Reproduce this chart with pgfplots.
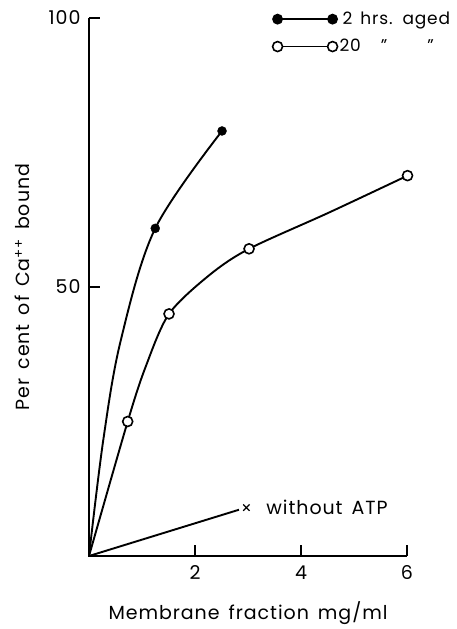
\documentclass[border=0pt]{standalone}
\usepackage{pgfplots}
\pgfplotsset{compat=1.18}
\usepackage{fontspec}
\setmainfont{Poppins}[LetterSpace=5, WordSpace=1.5]
\begin{document}
\fontsize{19pt}{22pt}\selectfont
\begin{tikzpicture}
\begin{axis}[
  at={(0,0)}, anchor=south west,
  scale only axis, width=318pt, height=538pt,
  xmin=0, xmax=6, ymin=0, ymax=100,
  clip=false,
  axis line style={draw=none},
  xtick pos=left, ytick pos=left,
  xtick={2,4,6}, ytick={50,100},
  tick align=inside, major tick length=11pt,
  tick style={line width=1.2pt, black},
  /pgf/number format/assume math mode=true,
  xticklabel style={yshift=-3pt},
  yticklabel style={xshift=-2pt},
  xlabel={Membrane fraction mg/ml},
  ylabel={Per cent of Ca\textsuperscript{++} bound},
  every axis x label/.style={at={(axis cs:3,-10.6)}, anchor=center},
  every axis y label/.style={at={(axis cs:-1.257,50)}, rotate=90, anchor=center},
  legend image code/.code={\draw[#1] plot coordinates {(0pt,0pt) (55pt,0pt)};},
  legend style={draw=none, fill=none, at={(axis cs:3.46,102)}, anchor=north west,
    inner xsep=0pt, row sep=8pt, cells={anchor=west},
    font=\fontsize{17pt}{20pt}\selectfont},
]
\draw[line width=1.2pt] (rel axis cs:0,1) -- (rel axis cs:0,0) -- (rel axis cs:1,0);
\addlegendimage{black, line width=1.8pt, mark=*, mark size=4.5pt}
\addlegendentry{\hspace{3pt}2 hrs. aged}
\addlegendimage{black, line width=1.8pt, mark=*, mark size=5pt, mark options={fill=white, line width=1.6pt}}
\addlegendentry{20\hspace{20pt}"\hspace{40pt}"}

% 2 hrs aged curve
\addplot[black, line width=1.9pt, smooth, tension=0.55, forget plot] coordinates {
 (0,0) (0.27,21.6) (0.60,40.1) (1.25,60.9) (2.51,79)};
\addplot[only marks, mark=*, mark size=4.5pt, black, forget plot] coordinates {
 (1.25,60.9) (2.51,79)};

% 20 hrs aged curve
\addplot[black, line width=1.9pt, smooth, tension=0.5, forget plot] coordinates {
 (0,0) (0.73,25) (1.07,35.2) (1.51,45) (2.27,52.2) (3.02,57.1) (4.52,63.8) (6.01,70.7)};
\addplot[only marks, mark=*, mark size=5pt, black, mark options={fill=white, line width=1.6pt}, forget plot] coordinates {
 (0.73,25) (1.51,45) (3.02,57.1) (6.01,70.7)};

% without ATP
\addplot[black, line width=1.9pt, forget plot] coordinates {(0,0) (2.83,8.6)};
\addplot[only marks, mark=x, mark size=4.5pt, black, line width=1.3pt, forget plot] coordinates {(2.97,9.0)}
  node[right, xshift=13pt] {without ATP};
\end{axis}
\pgfresetboundingbox
\path[use as bounding box] (-89pt,-73pt) rectangle (367pt,556pt);
\end{tikzpicture}
\end{document}
